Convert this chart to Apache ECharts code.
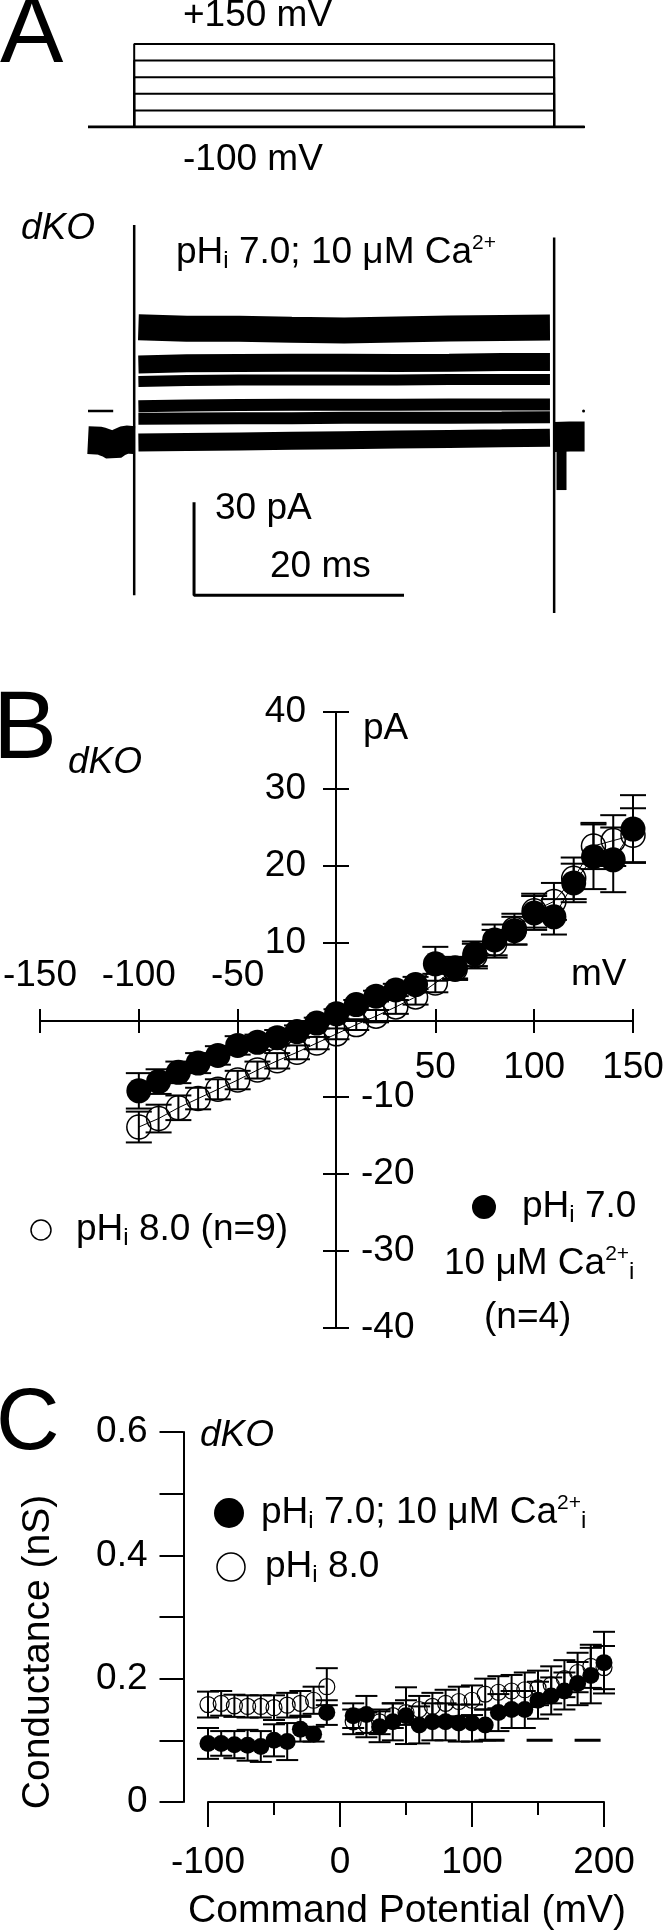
<!DOCTYPE html>
<html>
<head>
<meta charset="utf-8">
<script src="https://cdn.jsdelivr.net/npm/echarts@6/dist/echarts.min.js"></script>
<style>
  html, body { margin: 0; padding: 0; background: #fff; }
  #chart { width: 666px; height: 1932px; }
</style>
</head>
<body>
<div id="chart"></div>
<script>
// ---- panel A: voltage protocol (mV) and current traces (pA vs ms)
const protoSteps = [-100, -50, 0, 50, 100, 150]
const protoT = [-4.4, 0, 40, 42.9]   // start, pulse on, pulse off, end
const traceT = [0.4, 5, 10, 15, 20, 25, 30, 35, 39.6]
const traceI = [
  [27.0, 26.5, 26.5, 26.2, 26.0, 26.3, 26.6, 26.8, 26.9],
  [15.0, 15.4, 15.5, 15.6, 15.6, 15.5, 15.6, 15.8, 15.8],
  [9.5, 9.8, 10.0, 10.0, 10.0, 10.0, 10.2, 10.2, 10.2],
  [1.5, 1.8, 1.9, 2.0, 2.0, 2.0, 2.1, 2.1, 2.1],
  [-2.5, -2.4, -2.3, -2.3, -2.2, -2.2, -2.2, -2.1, -2.0],
  [-10.2, -10.0, -9.8, -9.6, -9.4, -9.2, -9.0, -8.8, -8.6]
]
const traceWidth = [26, 18, 11, 12, 12, 18]
const holdT = [-4.4, -3.2, -2.4, -2.0, -1.5, -0.8, 0]
const holdI = [-9.4, -9.6, -10.6, -11.4, -10.2, -9.2, -9.4]
const postT = [40, 41.5, 42.9]
const postI = [-8.4, -8.2, -8.2]
const onsetI = [60, -59.4]
const offsetI = [56, -65.2]
const tailT = 40.7
const tailI = [-9.4, -25.5]
const zeroMarkT = [-4.4, -2.0]
const scaleBarT = [5.7, 5.7, 25.7]
const scaleBarI = [-29.4, -59.4, -59.4]

// ---- panel B: I-V (pA vs mV)
const ivVolts = [-100, -90, -80, -70, -60, -50, -40, -30, -20, -10, 0, 10, 20, 30, 40, 50, 60, 70, 80, 90, 100, 110, 120, 130, 140, 150]
const ivPh7 = [-9.2, -8.0, -6.8, -5.6, -4.6, -3.3, -2.9, -2.3, -1.5, -0.4, 0.8, 2.0, 3.1, 3.9, 4.6, 7.3, 6.8, 8.6, 10.4, 11.6, 13.9, 13.4, 17.8, 21.2, 20.8, 24.8]
const ivPh7Err = [2.3, 1.6, 1.4, 1.3, 1.2, 1.2, 1.0, 1.0, 0.8, 0.7, 0.6, 0.6, 0.7, 0.8, 1.0, 2.2, 1.4, 1.6, 2.0, 1.8, 2.2, 2.3, 2.5, 4.2, 4.2, 4.4]
const ivPh8 = [-13.9, -12.8, -11.4, -10.2, -9.0, -7.8, -6.5, -5.3, -4.2, -3.0, -1.8, -0.6, 0.5, 1.7, 3.0, 4.8, 6.6, 8.3, 9.9, 11.8, 14.2, 15.4, 18.4, 22.6, 23.3, 24.0]
const ivPh8Err = [2.0, 1.8, 1.6, 1.4, 1.3, 1.2, 1.1, 1.0, 0.9, 0.8, 0.7, 0.7, 0.8, 0.9, 1.0, 1.2, 1.4, 1.6, 1.8, 2.0, 2.2, 2.4, 2.7, 3.0, 3.3, 3.5]

// ---- panel C: conductance (nS vs mV)
const gVolts = [-100, -90, -80, -70, -60, -50, -40, -30, -20, -10, 10, 20, 30, 40, 50, 60, 70, 80, 90, 100, 110, 120, 130, 140, 150, 160, 170, 180, 190, 200]
const gPh7 = [0.095, 0.095, 0.093, 0.092, 0.090, 0.100, 0.098, 0.118, 0.110, 0.145, 0.140, 0.142, 0.122, 0.130, 0.140, 0.125, 0.130, 0.130, 0.128, 0.128, 0.125, 0.145, 0.150, 0.150, 0.165, 0.172, 0.180, 0.192, 0.205, 0.226]
const gPh7Err = [0.025, 0.02, 0.022, 0.025, 0.025, 0.026, 0.03, 0.02, 0.012, 0.02, 0.02, 0.03, 0.025, 0.03, 0.046, 0.03, 0.03, 0.03, 0.03, 0.03, 0.025, 0.03, 0.03, 0.03, 0.03, 0.03, 0.03, 0.035, 0.045, 0.05]
const gPh8 = [0.158, 0.160, 0.156, 0.155, 0.155, 0.153, 0.157, 0.160, 0.165, 0.187, 0.130, 0.125, 0.130, 0.140, 0.145, 0.150, 0.155, 0.160, 0.163, 0.165, 0.175, 0.178, 0.180, 0.182, 0.185, 0.190, 0.200, 0.210, 0.220, 0.218]
const gPh8Err = [0.021, 0.02, 0.018, 0.018, 0.018, 0.02, 0.02, 0.02, 0.022, 0.03, 0.02, 0.02, 0.02, 0.02, 0.02, 0.022, 0.022, 0.022, 0.024, 0.024, 0.025, 0.026, 0.026, 0.028, 0.028, 0.03, 0.03, 0.032, 0.035, 0.035]
const gRefT = [105, 200]
const gRef = [0.1, 0.1]

const FONT = '"Liberation Sans", Arial, sans-serif'
const FS = 37
const zip = (a, b) => a.map((v, i) => [v, b[i]])
const zip3 = (a, b, c) => a.map((v, i) => [v, b[i], c[i]])

const rich = {
  sub: { fontSize: 24, lineHeight: 10, verticalAlign: 'bottom', fontFamily: FONT, fill: '#000' },
  sup: { fontSize: 21, lineHeight: 30, verticalAlign: 'top', fontFamily: FONT, fill: '#000' }
}
function txt(x, y, text, opts = {}) {
  return {
    type: 'text', x, y, rotation: opts.rotation || 0, silent: true, z: 20,
    style: {
      text, fill: '#000', fontFamily: FONT, fontSize: opts.size || FS,
      fontStyle: opts.italic ? 'italic' : 'normal',
      align: opts.align || 'left', verticalAlign: 'middle', lineHeight: 40, rich
    }
  }
}
function dot(cx, cy, r, filled) {
  return {
    type: 'circle', silent: true, z: 20, shape: { cx, cy, r },
    style: filled ? { fill: '#000' } : { fill: 'none', stroke: '#000', lineWidth: 1.5 }
  }
}
function errorBars(capW) {
  return function (params, api) {
    const x = api.value(0), y = api.value(1), e = api.value(2)
    const hi = api.coord([x, y + e]), lo = api.coord([x, y - e])
    const st = { stroke: '#000', lineWidth: 2 }
    return {
      type: 'group', children: [
        { type: 'line', shape: { x1: hi[0], y1: hi[1], x2: lo[0], y2: lo[1] }, style: st },
        { type: 'line', shape: { x1: hi[0] - capW / 2, y1: hi[1], x2: hi[0] + capW / 2, y2: hi[1] }, style: st },
        { type: 'line', shape: { x1: lo[0] - capW / 2, y1: lo[1], x2: lo[0] + capW / 2, y2: lo[1] }, style: st }
      ]
    }
  }
}
function plain(xi, yi, data, width, extra = {}) {
  return Object.assign({
    type: 'line', xAxisIndex: xi, yAxisIndex: yi, data, symbol: 'none', silent: true,
    lineStyle: { color: '#000', width, cap: 'butt' }
  }, extra)
}

const axisLine = { show: true, onZero: false, lineStyle: { color: '#000', width: 2 } }
const tickStyle = { color: '#000', width: 2 }
const lbl = { color: '#000', fontFamily: FONT, fontSize: FS }
const hidden = (gridIndex, min, max) => ({ gridIndex, type: 'value', min, max, show: false })

const series = []
// A: protocol
protoSteps.forEach((v) => {
  series.push(plain(0, 0, [[protoT[0], -100], [protoT[1], -100], [protoT[1], v], [protoT[2], v], [protoT[2], -100], [protoT[3], -100]], 2))
})
series.push(plain(0, 0, [[protoT[0], -100], [protoT[3], -100]], 3))
// A: traces
traceI.forEach((arr, k) => series.push(plain(1, 1, zip(traceT, arr), traceWidth[k])))
series.push(plain(1, 1, zip(holdT, holdI), 28))
series.push(plain(1, 1, zip(postT, postI), 30))
series.push(plain(1, 1, [[0, onsetI[0]], [0, onsetI[1]]], 2.5))
series.push(plain(1, 1, [[protoT[2], offsetI[0]], [protoT[2], offsetI[1]]], 2.5))
series.push(plain(1, 1, [[tailT, tailI[0]], [tailT, tailI[1]]], 10))
series.push(plain(1, 1, [[zeroMarkT[0], 0], [zeroMarkT[1], 0]], 2.5))
series.push(plain(1, 1, zip(scaleBarT, scaleBarI), 3))
series.push({ type: 'scatter', xAxisIndex: 1, yAxisIndex: 1, data: [[protoT[3] - 0.1, 0]], symbolSize: 3, itemStyle: { color: '#000', opacity: 1 }, silent: true })

// B (data grid: xAxis 2 / yAxis 2)
series.push({ type: 'custom', xAxisIndex: 2, yAxisIndex: 2, data: zip3(ivVolts, ivPh8, ivPh8Err), renderItem: errorBars(26), silent: true, z: 2 })
series.push({ type: 'custom', xAxisIndex: 2, yAxisIndex: 2, data: zip3(ivVolts, ivPh7, ivPh7Err), renderItem: errorBars(26), silent: true, z: 2 })
series.push({
  type: 'line', xAxisIndex: 2, yAxisIndex: 2, data: zip(ivVolts, ivPh8), silent: true, z: 3,
  symbol: 'circle', symbolSize: 24, showAllSymbol: true,
  lineStyle: { color: '#000', width: 1 },
  itemStyle: { color: 'rgba(0,0,0,0)', borderColor: '#000', borderWidth: 1.5 }
})
series.push({
  type: 'line', xAxisIndex: 2, yAxisIndex: 2, data: zip(ivVolts, ivPh7), silent: true, z: 4,
  symbol: 'circle', symbolSize: 25, showAllSymbol: true,
  lineStyle: { color: '#000', width: 1 },
  itemStyle: { color: '#000', opacity: 1 }
})

// C (xAxis 6 / yAxis 6)
series.push(plain(6, 6, zip(gRefT, gRef), 3, { lineStyle: { color: '#000', width: 3, type: [26, 22], cap: 'butt' } }))
series.push({ type: 'custom', xAxisIndex: 6, yAxisIndex: 6, data: zip3(gVolts, gPh8, gPh8Err), renderItem: errorBars(22), silent: true, z: 2 })
series.push({ type: 'custom', xAxisIndex: 6, yAxisIndex: 6, data: zip3(gVolts, gPh7, gPh7Err), renderItem: errorBars(22), silent: true, z: 2 })
series.push({
  type: 'scatter', xAxisIndex: 6, yAxisIndex: 6, data: zip(gVolts, gPh8), silent: true, z: 3,
  symbol: 'circle', symbolSize: 16,
  itemStyle: { color: 'rgba(0,0,0,0)', borderColor: '#000', borderWidth: 1.2, opacity: 1 }
})
series.push({
  type: 'scatter', xAxisIndex: 6, yAxisIndex: 6, data: zip(gVolts, gPh7), silent: true, z: 4,
  symbol: 'circle', symbolSize: 17, itemStyle: { color: '#000', opacity: 1 }
})

const g = (left, top, width, height) => ({ left, top, width, height, containLabel: false, outerBoundsMode: 'none' })

const option = {
  animation: false,
  backgroundColor: '#fff',
  grid: [
    g(88, 44, 496.6, 83),     // 0 A protocol
    g(88, 194, 496.6, 434),   // 1 A traces
    g(40, 712, 593, 616),     // 2 B data
    g(40, 712, 593, 309),     // 3 B x axis (bottom edge at I = 0)
    g(336, 712, 297, 616),    // 4 B y axis (left edge at V = 0)
    g(208, 1432, 396, 370)    // 5 C
  ],
  xAxis: [
    hidden(0, -4.4, 42.9),
    hidden(1, -4.4, 42.9),
    hidden(2, -150, 150),
    {
      gridIndex: 3, type: 'value', min: -150, max: 150, interval: 50, position: 'bottom',
      axisLine, axisTick: { length: 12, lineStyle: tickStyle },
      axisLabel: Object.assign({ margin: 28, formatter: (v) => (v > 0 ? String(v) : '') }, lbl),
      splitLine: { show: false }
    },
    {
      gridIndex: 3, type: 'value', min: -150, max: 150, interval: 50, position: 'bottom',
      axisLine, axisTick: { inside: true, length: 12, lineStyle: tickStyle },
      axisLabel: Object.assign({ inside: true, margin: 27, formatter: (v) => (v < 0 ? String(v) : '') }, lbl),
      splitLine: { show: false }
    },
    hidden(4, 0, 150),
    {
      gridIndex: 5, type: 'value', min: -100, max: 200, interval: 100,
      axisLine, axisTick: { length: 25, lineStyle: tickStyle },
      minorTick: { show: true, splitNumber: 2, length: 13, lineStyle: tickStyle },
      axisLabel: Object.assign({ margin: 42 }, lbl),
      splitLine: { show: false }, minorSplitLine: { show: false }
    }
  ],
  yAxis: [
    hidden(0, -100, 150),
    hidden(1, -70, 70),
    hidden(2, -40, 40),
    hidden(3, 0, 40),
    {
      gridIndex: 4, type: 'value', min: -40, max: 40, interval: 10, position: 'left',
      axisLine, axisTick: { length: 13, lineStyle: tickStyle },
      axisLabel: Object.assign({ margin: 30, formatter: (v) => (v > 0 ? String(v) : '') }, lbl),
      splitLine: { show: false }
    },
    {
      gridIndex: 4, type: 'value', min: -40, max: 40, interval: 10, position: 'left',
      axisLine, axisTick: { inside: true, length: 13, lineStyle: tickStyle },
      axisLabel: Object.assign({ inside: true, margin: 25, formatter: (v) => (v < 0 ? String(v) : '') }, lbl),
      splitLine: { show: false }
    },
    {
      gridIndex: 5, type: 'value', min: 0, max: 0.6, interval: 0.1, offset: 24.5,
      axisLine, axisTick: { length: 24, lineStyle: tickStyle },
      axisLabel: Object.assign({
        margin: 36,
        formatter: (v) => {
          const k = Math.round(v * 10)
          if (k % 2) return ''
          return k === 0 ? '0' : (k / 10).toFixed(1)
        }
      }, lbl),
      splitLine: { show: false }
    }
  ],
  graphic: {
    elements: [
      // panel A
      txt(0, 36, 'A', { size: 95 }),
      txt(183, 16, '+150 mV'),
      txt(183, 160, '-100 mV'),
      txt(21, 229, 'dKO', { italic: true }),
      txt(176, 253, 'pH{sub|i} 7.0; 10 μM Ca{sup|2+}'),
      txt(215, 509, '30 pA'),
      txt(270, 567, '20 ms'),
      // panel B
      txt(-7, 732, 'B', { size: 96 }),
      txt(68, 763, 'dKO', { italic: true }),
      txt(363, 729, 'pA'),
      txt(571, 975, 'mV'),
      dot(41, 1230, 10, false),
      txt(76, 1230, 'pH{sub|i} 8.0 (n=9)'),
      dot(484, 1207, 12, true),
      txt(522, 1207, 'pH{sub|i} 7.0'),
      txt(444, 1264, '10 μM Ca{sup|2+}{sub|i}'),
      txt(484, 1318, '(n=4)'),
      // panel C
      txt(-4, 1425, 'C', { size: 88 }),
      txt(200, 1436, 'dKO', { italic: true }),
      dot(229, 1513, 15, true),
      txt(261, 1513, 'pH{sub|i} 7.0; 10 μM Ca{sup|2+}{sub|i}'),
      dot(231, 1567, 14, false),
      txt(265, 1567, 'pH{sub|i} 8.0'),
      txt(407, 1911, 'Command Potential (mV)', { align: 'center', size: 39 }),
      txt(38, 1652, 'Conductance (nS)', { align: 'center', size: 39, rotation: Math.PI / 2 })
    ]
  },
  series
}

const chart = echarts.init(document.getElementById('chart'), null, { renderer: 'canvas' })
chart.setOption(option)
</script>
</body>
</html>
